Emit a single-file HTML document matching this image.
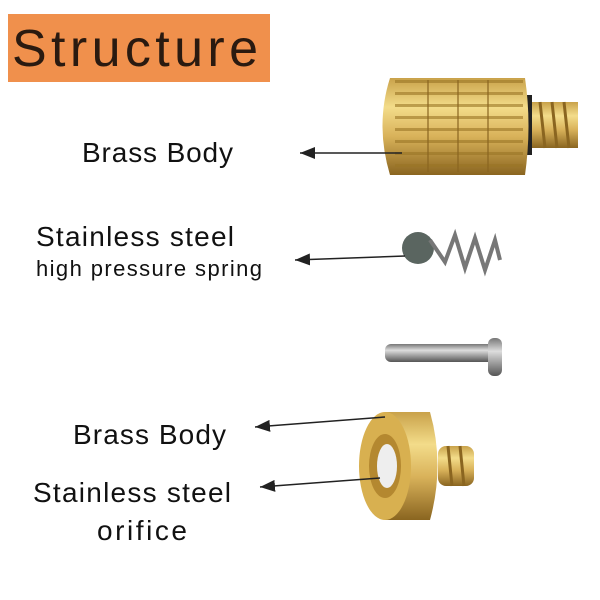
<!DOCTYPE html>
<html><head><style>body{margin:0;background:#fff}svg{display:block}</style></head><body>
<svg width="600" height="600" xmlns="http://www.w3.org/2000/svg" font-family="Liberation Sans, sans-serif">
<defs>
<linearGradient id="br" x1="0" y1="0" x2="0" y2="1">
<stop offset="0" stop-color="#c9a24a"/><stop offset="0.3" stop-color="#f3dc8a"/><stop offset="0.6" stop-color="#d9b25a"/><stop offset="1" stop-color="#8a6520"/></linearGradient>
<linearGradient id="st" x1="0" y1="0" x2="0" y2="1">
<stop offset="0" stop-color="#777"/><stop offset="0.35" stop-color="#ddd"/><stop offset="1" stop-color="#555"/></linearGradient>
<pattern id="kn" width="8" height="12" patternUnits="userSpaceOnUse"><rect width="8" height="12" fill="none"/><rect y="8" width="8" height="3" fill="#9a7424" opacity="0.6"/></pattern>
<marker id="ah" markerWidth="10" markerHeight="8" refX="0" refY="4" orient="auto"><path d="M10,0 L0,4 L10,8 z" fill="#222"/></marker>
</defs>
<rect x="8" y="14" width="262" height="68" fill="#f0904c"/>
<text x="12" y="66" font-size="52" fill="#2a1a10" textLength="246" lengthAdjust="spacing">Structure</text>
<!-- brass body 1 -->
<rect x="528" y="102" width="50" height="46" fill="url(#br)"/>
<g stroke="#8a6520" stroke-width="3"><line x1="540" y1="102" x2="545" y2="148"/><line x1="552" y1="102" x2="557" y2="148"/><line x1="564" y1="102" x2="569" y2="148"/></g>
<rect x="522" y="95" width="10" height="60" fill="#222"/>
<path d="M390,78 L525,78 Q532,125 525,175 L390,175 Q375,125 390,78 z" fill="url(#br)"/>
<rect x="395" y="80" width="128" height="92" fill="url(#kn)"/>
<g stroke="#8a6520" stroke-width="2" opacity="0.6"><line x1="428" y1="80" x2="428" y2="172"/><line x1="458" y1="80" x2="458" y2="172"/><line x1="488" y1="80" x2="488" y2="172"/></g>
<!-- spring -->
<circle cx="418" cy="248" r="16" fill="#5a6560"/>
<g fill="none" stroke="#777" stroke-width="4"><path d="M430,240 L445,262 L455,235 L465,268 L475,238 L485,270 L495,240 L500,260"/></g>
<!-- pin -->
<rect x="385" y="344" width="110" height="18" rx="6" fill="url(#st)"/>
<rect x="488" y="338" width="14" height="38" rx="6" fill="url(#st)"/>
<!-- nozzle -->
<rect x="438" y="446" width="36" height="40" rx="8" fill="url(#br)"/>
<g stroke="#8a6520" stroke-width="3"><line x1="448" y1="446" x2="452" y2="486"/><line x1="460" y1="446" x2="464" y2="486"/></g>
<path d="M385,412 L430,412 Q445,465 430,520 L385,520 z" fill="url(#br)"/>
<ellipse cx="385" cy="466" rx="26" ry="54" fill="#d8b050"/>
<ellipse cx="385" cy="466" rx="16" ry="32" fill="#b48830"/>
<ellipse cx="387" cy="466" rx="10" ry="22" fill="#eee"/>
<!-- labels -->
<g fill="#111">
<text x="82" y="162" font-size="28" textLength="151" lengthAdjust="spacing">Brass Body</text>
<text x="36" y="246" font-size="28" textLength="198" lengthAdjust="spacing">Stainless steel</text>
<text x="36" y="276" font-size="22" textLength="226" lengthAdjust="spacing">high pressure spring</text>
<text x="73" y="444" font-size="28" textLength="153" lengthAdjust="spacing">Brass Body</text>
<text x="33" y="502" font-size="28" textLength="198" lengthAdjust="spacing">Stainless steel</text>
<text x="97" y="540" font-size="28" textLength="90" lengthAdjust="spacing">orifice</text>
</g>
<g stroke="#222" stroke-width="1.5">
<line x1="300" y1="153" x2="402" y2="153" marker-start="url(#ah)"/>
<line x1="295" y1="260" x2="405" y2="256" marker-start="url(#ah)"/>
<line x1="255" y1="427" x2="385" y2="417" marker-start="url(#ah)"/>
<line x1="260" y1="487" x2="380" y2="478" marker-start="url(#ah)"/>
</g>
</svg>
</body></html>
